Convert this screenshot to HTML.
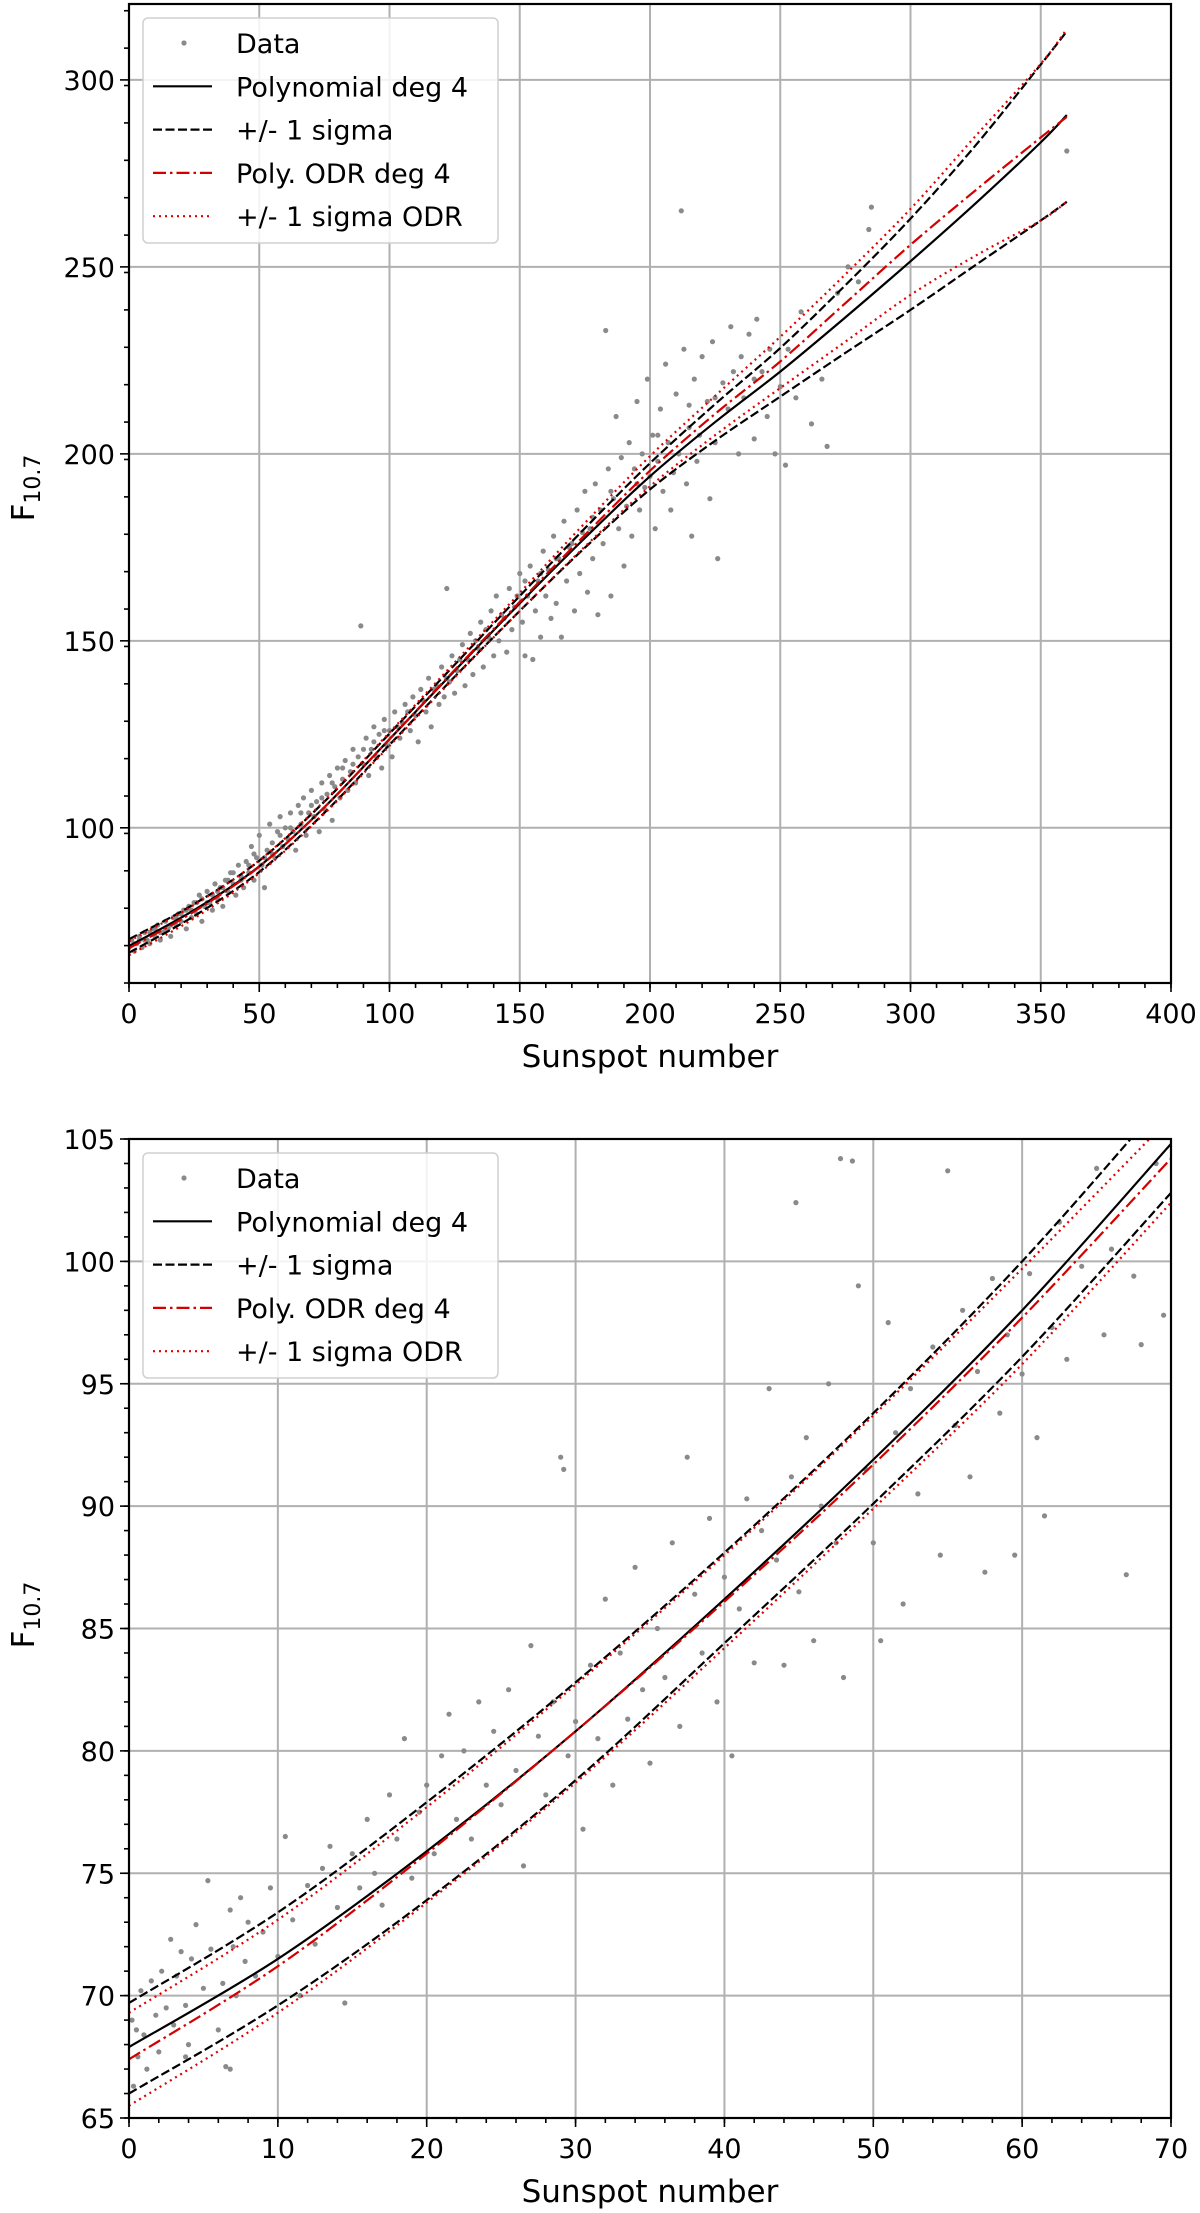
<!DOCTYPE html>
<html><head><meta charset="utf-8"><style>
html,body{margin:0;padding:0;background:#fff}
svg{display:block}
text{font-family:"DejaVu Sans","Liberation Sans",sans-serif;fill:#000}
</style></head><body>
<svg id="fig" width="1200" height="2213" viewBox="0 0 1200 2213" xmlns="http://www.w3.org/2000/svg">
<rect width="1200" height="2213" fill="#fff"/>
<g id="top"></g>
<g id="bot"></g>
</svg>
<script>
// ---------- TOP CHART DATA ----------
const topX = [0,25,50,75,100,125,150,175,200,225,250,275,300,325,350,360];
const topPoly = [68.4,78,89.7,105.5,123.7,142,160,177.5,194,208.5,222,236.5,251.5,267,283.3,290.6];
const topPolyUp = [70.2,79.6,91.2,107,125.2,143.6,162,180.1,197.5,213.3,228.3,245.1,262.9,282.5,304.1,313];
const topPolyLo = [66.6,76.4,88.2,104,122.2,140.4,158,174.9,190.5,203.5,215.3,227,238.5,250.5,262.4,267.4];
const topOdr = [67.8,77.6,89.6,105.5,123.7,142.2,160.4,178.3,195.5,210.7,224.7,240.3,255.9,270.5,284.6,290.1];
const topOdrUp = [69.7,79.4,91.3,107.2,125.5,144.2,162.8,181.5,199.4,215.5,231.3,248,265.5,285,304.3,313.6];
const topOdrLo = [65.9,75.8,87.9,103.8,121.9,140.2,158,175.2,191.3,205,217.6,230,242.5,253,262.4,267.4];
const topXTicks = [0,50,100,150,200,250,300,350,400];
const topYTicks = [100,150,200,250,300];
const topScatter = [[0,68],[1,70],[2,67],[3,69],[4,71],[5,68],[6,72],[7,70],[8,69],[9,73],[10,71],[11,74],[12,70],[13,72],[14,75],[15,73],[16,71],[17,76],[18,74],[19,77],[20,75],[21,78],[22,73],[23,79],[24,76],[25,80],[26,77],[27,82],[28,75],[29,79],[30,83],[31,80],[32,78],[33,85],[34,81],[35,84],[36,79],[37,86],[38,83],[39,88],
[40,85],[41,82],[42,90],[43,87],[44,84],[45,91],[46,88],[47,95],[48,86],[49,92],[50,98],[51,90],[52,84],[53,94],[54,101],[55,96],[56,92],[57,99],[58,103],[59,95],[60,100],[61,97],[62,104],[63,99],[64,94],[65,106],[66,101],[67,108],[68,98],[69,104],[70,110],[71,103],[72,107],[73,99],[74,112],[75,105],[76,109],[77,114],[78,102],[79,111],[80,116],[81,108],[82,113],[83,118],[84,110],[85,115],[86,121],[87,112],[88,119],[89,154],[90,117],[91,124],[92,114],[93,121],[94,127],[95,119],[96,125],[97,116],[98,129],[99,122],[100,126],
[101,119],[102,131],[104,124],[105,128],[106,133],[108,126],[109,135],[110,130],[111,123],[112,137],[114,131],[115,140],[116,127],[118,138],[119,133],[120,143],[121,135],[122,164],[123,139],[124,146],[125,136],[126,142],[128,149],[129,138],[130,145],[131,152],[132,141],[134,148],[135,155],[136,143],[138,151],[139,158],[140,146],[141,162],[142,150],[144,156],[145,147],[146,164],[147,153],[148,159],[150,168],[151,155],[152,146],[153,162],[154,170],[155,145],[156,158],[157,166],[158,151],[159,174],
[160,162],[161,169],[162,156],[163,178],[164,160],[165,172],[166,151],[167,182],[168,166],[170,176],[171,158],[172,185],[173,168],[175,190],[176,163],[177,180],[178,172],[179,192],[180,157],[181,185],[182,176],[183,233],[184,196],[185,162],[186,188],[187,210],[188,180],[189,199],[190,170],[191,186],[192,203],[193,178],[194,196],[195,214],[196,185],[197,200],[198,191],[199,220],[200,194],[201,205],[202,180],[203,198],[204,212],[205,190],[206,224],[207,203],[208,185],[209,195],[210,216],[211,200],[212,265],[213,228],[214,192],[215,207],[216,178],[217,220],[218,198],[219,205],[220,226],[222,214],[223,188],[224,230],[225,203],[226,172],[228,219],[230,212],[231,234],[232,222],[234,200],[235,226],[236,215],[238,232],[240,204],[241,236],[243,222],[245,210],[246,228],[248,200],[250,218],[252,197],[253,228],[256,215],[258,238],[262,208],[266,220],[268,202],[272,243],[276,250],[280,246],[284,260],[285,266],[360,281],
[2,69],[4,70],[6,70],[8,72],[10,73],[12,72],[14,73],[16,74],[18,76],[20,77],[22,78],[24,78],[26,80],[28,81],[30,80],[32,82],[34,83],[36,84],[38,86],[40,88],[43,86],[46,90],[48,93],[52,92],[55,93],[58,98],[62,100],[66,104],[70,106],[74,108],[78,112],[82,116],[86,117],[90,121],[94,123],[98,126],[103,127],[107,131],[113,134],[117,137],[122,140],[127,145],[133,150],[137,153],[143,157],[149,162],[152,166],[158,168],[164,172],[169,175],[174,179],[178,183],[185,190],[195,192],[203,205],[215,213],[225,215],[240,220]];

// ---------- BOTTOM CHART DATA ----------
const botX = [0,10,20,30,40,50,60,70];
const botPoly = [67.9,71.5,75.9,80.8,86.2,91.9,98.0,104.8];
const botPolyUp = [69.7,73.4,77.9,82.8,88.1,93.8,100.0,106.9];
const botPolyLo = [66.0,69.6,73.9,78.8,84.4,90.1,96.1,102.8];
const botOdr = [67.4,71.2,75.8,80.8,86.1,91.7,97.7,104.2];
const botOdrUp = [69.3,73.1,77.7,82.7,88.0,93.7,99.7,105.9];
const botOdrLo = [65.5,69.3,73.8,78.7,84.2,89.9,95.8,102.4];
const botXTicks = [0,10,20,30,40,50,60,70];
const botYTicks = [65,70,75,80,85,90,95,100,105];
const botScatter = [[0.2,69],[0.3,66.3],[0.5,68.6],[0.6,67.5],[0.8,70.2],[1,68.4],[1.2,67],[1.5,70.6],[1.8,69.2],[2,67.7],[2.2,71],[2.5,69.5],[2.8,72.3],[3,68.8],[3.2,70.8],[3.5,71.8],[3.8,69.6],[3.8,67.5],[4,68],[4.2,71.5],[4.5,72.9],[5,70.3],[5.3,74.7],[5.5,71.9],[6,68.6],[6.3,70.5],[6.5,67.1],[6.8,73.5],[6.8,67],[7,72],[7.2,70],[7.5,74],[7.8,71.4],[8,73],[8.5,70.8],[9,72.6],[9.5,74.4],[10,71.6],[10.5,76.5],[11,73.1],[11.5,70],[12,74.5],[12.5,72.1],[13,75.2],[13.5,76.1],[14,73.6],[14.5,69.7],[15,75.8],[15.5,74.4],[16,77.2],[16.5,75],[17,73.7],[17.5,78.2],[18,76.4],[18.5,80.5],[19,74.8],[19.5,77.5],[20,78.6],[20.5,75.8],[21,79.8],[21.5,81.5],[22,77.2],[22.5,80],[23,76.4],[23.5,82],[24,78.6],[24.5,80.8],[25,77.8],[25.5,82.5],[26,79.2],[26.5,75.3],[27,84.3],[27.5,80.6],[28,78.2],[28.5,82],[29,92],[29.2,91.5],[29.5,79.8],[30,81.2],[30.5,76.8],[31,83.5],[31.5,80.5],[32,86.2],[32.5,78.6],[33,84],[33.5,81.3],[34,87.5],[34.5,82.5],[35,79.5],[35.5,85],[36,83],[36.5,88.5],[37,81],[37.5,92],[38,86.4],[38.5,84],[39,89.5],[39.5,82],[40,87.1],[40.5,79.8],[41,85.8],[41.5,90.3],[42,83.6],[42.5,89],[43,94.8],[43.5,87.8],[44,83.5],[44.5,91.2],[44.8,102.4],[45,86.5],[45.5,92.8],[46,84.5],[46.5,90],[47,95],[47.5,88.5],[47.8,104.2],[48,83],[48.6,104.1],[49,99],[49.5,91.5],[50,88.5],[50.5,84.5],[51,97.5],[51.5,93],[52,86],[52.5,94.8],[53,90.5],[54,96.5],[54.5,88],[55,103.7],[55.5,93.3],[56,98],[56.5,91.2],[57,95.5],[57.5,87.3],[58,99.3],[58.5,93.8],[59,97],[59.5,88],[60,95.4],[60.5,99.5],[61,92.8],[61.5,89.6],[62,97.3],[62.5,101.6],[63,96],[64,99.8],[65,103.8],[65.5,97],[66,100.5],[67,87.2],[67.5,99.4],[68,96.6],[69,104],[69.5,97.8]];

const NS='http://www.w3.org/2000/svg';
function mk(tag, attrs, parent){const e=document.createElementNS(NS,tag);for(const k in attrs)e.setAttribute(k,attrs[k]);parent.appendChild(e);return e;}

function spline(pts){
  let d='M'+pts[0][0].toFixed(2)+','+pts[0][1].toFixed(2);
  for(let i=0;i<pts.length-1;i++){
    const p0=pts[Math.max(0,i-1)],p1=pts[i],p2=pts[i+1],p3=pts[Math.min(pts.length-1,i+2)];
    const c1=[p1[0]+(p2[0]-p0[0])/6,p1[1]+(p2[1]-p0[1])/6];
    const c2=[p2[0]-(p3[0]-p1[0])/6,p2[1]-(p3[1]-p1[1])/6];
    d+='C'+c1[0].toFixed(2)+','+c1[1].toFixed(2)+' '+c2[0].toFixed(2)+','+c2[1].toFixed(2)+' '+p2[0].toFixed(2)+','+p2[1].toFixed(2);
  }
  return d;
}

function chart(g, cfg){
  const L=129,R=1171,T=cfg.top,B=cfg.bottom;
  const sx=v=>L+(v-cfg.xmin)/(cfg.xmax-cfg.xmin)*(R-L);
  const sy=v=>B-(v-cfg.ymin)/(cfg.ymax-cfg.ymin)*(B-T);
  const cid='clip'+cfg.id;
  const defs=mk('defs',{},g);
  const cp=mk('clipPath',{id:cid},defs);
  mk('rect',{x:L,y:T,width:R-L,height:B-T},cp);
  const grid=mk('g',{},g);
  
  
  cfg.xticks.forEach(v=>{mk('line',{x1:sx(v),x2:sx(v),y1:T,y2:B,stroke:'#b0b0b0','stroke-width':2},grid);});
  cfg.yticks.forEach(v=>{mk('line',{x1:L,x2:R,y1:sy(v),y2:sy(v),stroke:'#b0b0b0','stroke-width':2},grid);});
  const sc=mk('g',{'clip-path':'url(#'+cid+')'},g);
  
  
  cfg.scatter.forEach(p=>{const c=mk('circle',{cx:sx(p[0]).toFixed(1),cy:sy(p[1]).toFixed(1),r:2.6,fill:'#8a8a8a'},sc);
    });
  const lines=mk('g',{'clip-path':'url(#'+cid+')',fill:'none'},g);
  const series=[
    ['poly-upper-sigma',cfg.pu,'#000','9,3.5',2.2],
    ['poly-lower-sigma',cfg.pl,'#000','9,3.5',2.2],
    ['odr-upper-sigma',cfg.ou,'#e00000','2,4',2.2],
    ['odr-lower-sigma',cfg.ol,'#e00000','2,4',2.2],
    ['polynomial-fit',cfg.p,'#000','',2.2],
    ['odr-fit',cfg.o,'#d40000','13,4,2.5,4',2.2]];
  series.forEach(s=>{
    const pts=cfg.xs.map((x,i)=>[sx(x),sy(s[1][i])]);
    const a={d:spline(pts),stroke:s[2],'stroke-width':s[4]};
    if(s[3])a['stroke-dasharray']=s[3];
    const path=mk('path',a,lines);
    
    
  });
  const ax=mk('g',{stroke:'#000','stroke-width':1.6},g);
  
  
  for(let v=cfg.xmin;v<=cfg.xmax+1e-9;v+=cfg.xminor){mk('line',{x1:sx(v),x2:sx(v),y1:B,y2:B+5},ax);}
  for(let v=cfg.ymin;v<=cfg.ymax+1e-9;v+=cfg.yminor){mk('line',{x1:L-5,x2:L,y1:sy(v),y2:sy(v)},ax);}
  cfg.xticks.forEach(v=>{mk('line',{x1:sx(v),x2:sx(v),y1:B,y2:B+9},ax);
    const t=mk('text',{x:sx(v),y:B+40,'text-anchor':'middle','font-size':27,stroke:'none'},g);t.textContent=v;
    });
  cfg.yticks.forEach(v=>{mk('line',{x1:L-9,x2:L,y1:sy(v),y2:sy(v)},ax);
    const t=mk('text',{x:L-14,y:sy(v)+10,'text-anchor':'end','font-size':27,stroke:'none'},g);t.textContent=v;
    });
  mk('rect',{x:L,y:T,width:R-L,height:B-T,fill:'none',stroke:'#000','stroke-width':2.2},g);
  const xl=mk('text',{x:(L+R)/2,y:B+84,'text-anchor':'middle','font-size':31},g);xl.textContent='Sunspot number';
  
  const yl=mk('text',{x:0,y:0,'text-anchor':'middle','font-size':31,transform:'translate(34,'+cfg.ylabelY+') rotate(-90)'},g);
  yl.innerHTML='F<tspan font-size="22" dy="6">10.7</tspan>';
  
  const lg=mk('g',{},g);
  
  
  const ly=cfg.legendTop;
  mk('rect',{x:143,y:ly,width:355,height:225,rx:5,fill:'#fff','fill-opacity':0.85,stroke:'#d0d0d0','stroke-width':1.5},lg);
  const entries=[['Data','dot'],['Polynomial deg 4','solid'],['+/- 1 sigma','dash'],['Poly. ODR deg 4','dashdot'],['+/- 1 sigma ODR','dot2']];
  entries.forEach((e,i)=>{
    const y=ly+25+i*43.3;
    const eg=mk('g',{},lg);
    
    
    if(e[1]==='dot')mk('circle',{cx:184,cy:y,r:2.6,fill:'#8a8a8a'},eg);
    else{
      const a={x1:153,x2:212,y1:y,y2:y,'stroke-width':2.2,stroke:'#000'};
      if(e[1]==='dash')a['stroke-dasharray']='9,3.5';
      if(e[1]==='dashdot'){a.stroke='#d40000';a['stroke-dasharray']='13,4,2.5,4';}
      if(e[1]==='dot2'){a.stroke='#e00000';a['stroke-dasharray']='2,4';}
      mk('line',a,eg);
    }
    const t=mk('text',{x:236,y:y+10,'font-size':27},eg);t.textContent=e[0];
  });
}

chart(document.getElementById('top'),{id:'t',top:4,bottom:983,xmin:0,xmax:400,ymin:58.5,ymax:320.3,
  xs:topX,p:topPoly,pu:topPolyUp,pl:topPolyLo,o:topOdr,ou:topOdrUp,ol:topOdrLo,
  xticks:topXTicks,yticks:topYTicks,xminor:10,yminor:10,scatter:topScatter,ylabelY:488,legendTop:18});
chart(document.getElementById('bot'),{id:'b',top:1139,bottom:2118,xmin:0,xmax:70,ymin:65,ymax:105,
  xs:botX,p:botPoly,pu:botPolyUp,pl:botPolyLo,o:botOdr,ou:botOdrUp,ol:botOdrLo,
  xticks:botXTicks,yticks:botYTicks,xminor:2,yminor:1,scatter:botScatter,ylabelY:1615,legendTop:1153});
</script>
</body></html>
